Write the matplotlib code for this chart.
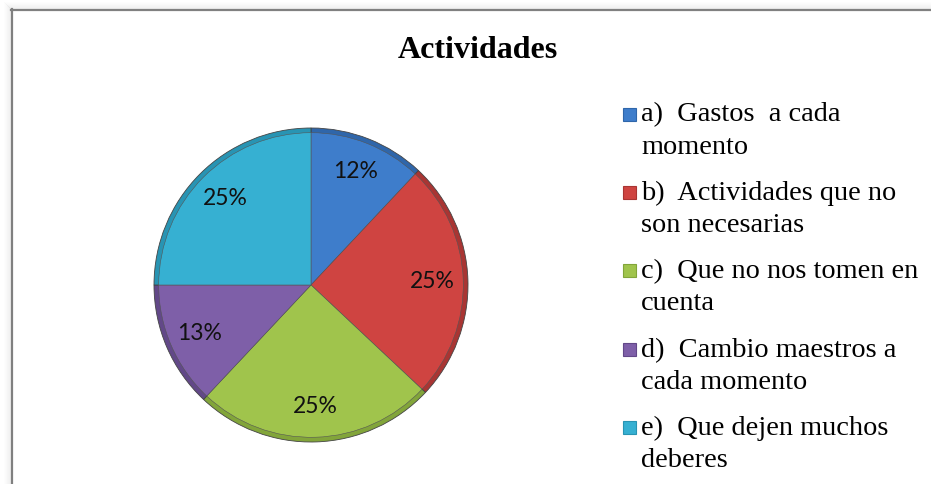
import matplotlib.pyplot as plt
from matplotlib.patches import Rectangle
from matplotlib.lines import Line2D

categories = [
    "a)  Gastos  a cada\nmomento",
    "b)  Actividades que no\nson necesarias",
    "c)  Que no nos tomen en\ncuenta",
    "d)  Cambio maestros a\ncada momento",
    "e)  Que dejen muchos\ndeberes",
]
values = [12, 25, 25, 13, 25]
colors = ["#3E7DCB", "#CF4441", "#A0C44C", "#7E5FA8", "#36B0D2"]
edge_colors = ["#2F66AA", "#A93533", "#82A53A", "#624888", "#2894B3"]
title = "Actividades"

W, H = 931, 484
fig = plt.figure(figsize=(W / 100, H / 100), dpi=100)


def fx(x):
    return x / W


def fy(y):
    return 1 - y / H


# chart frame (top and left edges with a soft shadow)
for k in range(8):
    a = 0.06 * (8 - k) / 8
    fig.add_artist(Line2D([fx(11 - k), 1], [fy(9 - k), fy(9 - k)], color="k", alpha=a, lw=0.8))
    fig.add_artist(Line2D([fx(11 - k), fx(11 - k)], [fy(9 - k), 0], color="k", alpha=a, lw=0.8))
fig.add_artist(Line2D([fx(11), 1], [fy(10), fy(10)], color="#808080", lw=1.6))
fig.add_artist(Line2D([fx(12), fx(12)], [fy(9), 0], color="#808080", lw=1.6))

# pie
cx, cy, r = 311, 285, 157
ax = fig.add_axes([fx(cx - r), fy(cy + r), 2 * r / W, 2 * r / H])
ax.pie(values, colors=edge_colors, startangle=90, counterclock=False, radius=1.0,
       wedgeprops=dict(edgecolor="#444444", linewidth=0.6))
wedges, texts, autotexts = ax.pie(
    values, colors=colors, startangle=90, counterclock=False, radius=0.97,
    autopct="%.0f%%", pctdistance=0.80,
    wedgeprops=dict(edgecolor="#555555", linewidth=0.4),
    textprops=dict(fontsize=16.5, family="Lato", color="#111111"))
ax.set_xlim(-1, 1)
ax.set_ylim(-1, 1)
ax.set_aspect("equal")
ax.axis("off")

fig.text(fx(478), fy(50), title, ha="center", va="center",
         family="Liberation Serif", fontweight="bold", fontsize=23)

# legend
base0, step, line_gap = 121.5, 78.4, 32
for i, (lab, col, ec) in enumerate(zip(categories, colors, edge_colors)):
    b = base0 + i * step
    fig.add_artist(Rectangle((fx(623), fy(b - 1)), 13 / W, 13 / H,
                             facecolor=col, edgecolor=ec, lw=0.8))
    for j, line in enumerate(lab.split("\n")):
        fig.text(fx(641), fy(b + j * line_gap), line, ha="left", va="baseline",
                 family="Liberation Serif", fontsize=20.4, color="black")

fig.savefig("out.png", dpi=100)
